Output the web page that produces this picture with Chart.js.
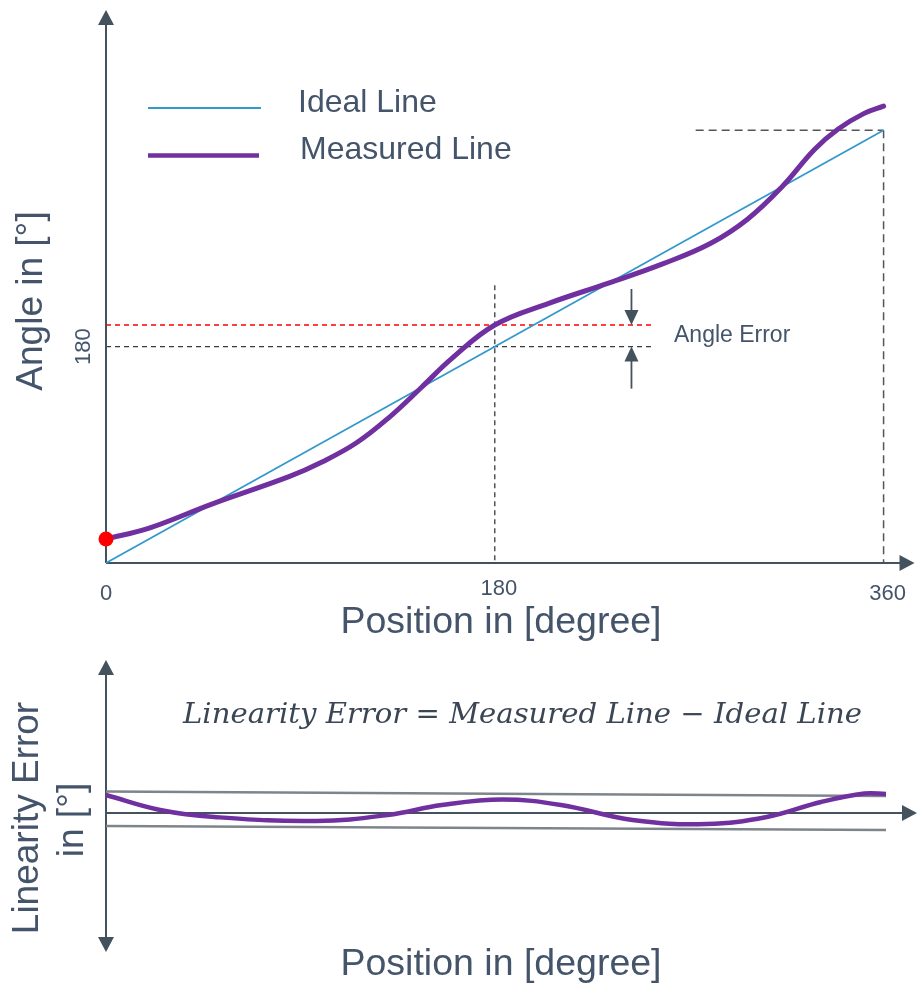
<!DOCTYPE html>
<html><head><meta charset="utf-8">
<script src="https://cdn.jsdelivr.net/npm/chart.js@4.4.1/dist/chart.umd.min.js"></script>
<style>
html,body{margin:0;padding:0;background:#fff;overflow:hidden;}
#wrap{position:relative;width:917px;height:987px;}
.box{position:absolute;left:0;width:917px;}
</style></head><body>
<div id="wrap">
<div class="box" style="top:0;height:645px"><canvas id="c1" width="917" height="645"></canvas></div>
<div class="box" style="top:645px;height:342px"><canvas id="c2" width="917" height="342"></canvas></div>
</div>
<script>
// ---------------- DATA ----------------
const measuredPos   = [0, 20, 49, 85, 100, 116, 131, 146, 160, 180, 205, 233, 258, 280, 297, 313, 328, 339, 351, 360];
const measuredAngle = [20, 29, 49, 72, 84, 100, 121, 146, 170, 198, 216, 233, 249, 266, 286, 313, 344, 361, 374, 380];
const idealPos   = [0, 360];
const idealAngle = [0, 360];
const errorPos = [0, 25, 50, 97, 130, 155, 183, 210, 243, 277, 305, 330, 350, 360];
const errorVal = [18, 3, -4, -8, -2, 8, 13.5, 8, -7, -11, -4, 11, 19.5, 19];
const bandPos   = [0, 360];
const upperBand = [21.5, 17];
const lowerBand = [-13, -17];
const xTickValues = [0, 180, 360];
const yTickValues = [180];
const markPos = 180;
const legendLabels = ['Ideal Line', 'Measured Line'];
const xTitle = 'Position in [degree]';
const yTitleTop = 'Angle in [°]';
const yTitleBottom = ['Linearity Error', 'in [°]'];
const formulaText = 'Linearity Error = Measured Line \u2212 Ideal Line';
const annotationText = 'Angle Error';

// ---------------- STYLE ----------------
const AXIS = '#44525e', TEXT = '#44546a';
const SANS = '"Liberation Sans", Arial, sans-serif';
const IDEAL_C = '#3399cc', MEAS_C = '#7030a0';

function pts(xs, ys){ return xs.map((v,i)=>({x:v, y:ys[i]})); }
function interp(xs, ys, v){
  for (let i=0;i<xs.length-1;i++){
    if (v>=xs[i] && v<=xs[i+1]) return ys[i] + (ys[i+1]-ys[i])*(v-xs[i])/(xs[i+1]-xs[i]);
  }
  return ys[ys.length-1];
}
function seg(ctx,x1,y1,x2,y2){ ctx.beginPath(); ctx.moveTo(x1,y1); ctx.lineTo(x2,y2); ctx.stroke(); }
function head(ctx,tx,ty,dir,len,half){
  ctx.beginPath();
  if(dir==='up'){ctx.moveTo(tx,ty);ctx.lineTo(tx-half,ty+len);ctx.lineTo(tx+half,ty+len);}
  else if(dir==='down'){ctx.moveTo(tx,ty);ctx.lineTo(tx-half,ty-len);ctx.lineTo(tx+half,ty-len);}
  else {ctx.moveTo(tx,ty);ctx.lineTo(tx-len,ty-half);ctx.lineTo(tx-len,ty+half);}
  ctx.closePath(); ctx.fill();
}
function text(ctx,s,x,y,font,color,align,baseline,rot){
  ctx.save(); ctx.translate(x,y); if(rot) ctx.rotate(rot);
  ctx.font=font; ctx.fillStyle=color; ctx.textAlign=align||'left'; ctx.textBaseline=baseline||'alphabetic';
  ctx.fillText(s,0,0); ctx.restore();
}

const X_MAX = 372;

// ---------------- TOP CHART ----------------
const topDecor = {
  id:'topDecor',
  beforeDatasetsDraw(chart){
    const {ctx, scales:{x,y}, chartArea:a} = chart;
    const ox = x.getPixelForValue(0), oy = y.getPixelForValue(0);
    const pM = x.getPixelForValue(markPos);
    const measAt = interp(measuredPos, measuredAngle, markPos);
    const idealAt = interp(idealPos, idealAngle, markPos);
    const refEnd = x.getPixelForValue(253);
    ctx.save();
    ctx.lineWidth = 1.3;
    ctx.setLineDash([5,4]);
    ctx.strokeStyle = '#3a3a3a';
    seg(ctx, pM, y.getPixelForValue(231), pM, oy);
    seg(ctx, ox, y.getPixelForValue(idealAt), refEnd, y.getPixelForValue(idealAt));
    ctx.strokeStyle = '#ff0000'; ctx.lineWidth = 1.5;
    seg(ctx, ox, y.getPixelForValue(measAt), refEnd, y.getPixelForValue(measAt));
    const xEnd = idealPos[idealPos.length-1], yEnd = idealAngle[idealAngle.length-1];
    ctx.strokeStyle = '#555'; ctx.lineWidth = 1.5; ctx.setLineDash([8,5]);
    seg(ctx, x.getPixelForValue(273), y.getPixelForValue(yEnd), x.getPixelForValue(xEnd), y.getPixelForValue(yEnd));
    seg(ctx, x.getPixelForValue(xEnd), y.getPixelForValue(yEnd), x.getPixelForValue(xEnd), oy);
    ctx.setLineDash([]);
    ctx.strokeStyle = AXIS; ctx.fillStyle = AXIS; ctx.lineWidth = 2;
    seg(ctx, ox, oy, ox, a.top+12); head(ctx, ox, a.top, 'up', 15, 8);
    seg(ctx, ox, oy, a.right-6, oy); head(ctx, a.right+5, oy, 'right', 15, 8);
    ctx.restore();
  },
  afterDatasetsDraw(chart){
    const {ctx, scales:{x,y}} = chart;
    ctx.save();
    xTickValues.forEach(v=> text(ctx, String(v), x.getPixelForValue(v) + (v===180?4:0) + (v===360?4:0), v===180?595:600, '22px '+SANS, TEXT, 'center'));
    yTickValues.forEach(v=> text(ctx, String(v), 90, y.getPixelForValue(v), '22px '+SANS, TEXT, 'center', 'alphabetic', -Math.PI/2));
    text(ctx, xTitle, 501, 633, '37.5px '+SANS, TEXT, 'center');
    text(ctx, yTitleTop, 42, 301, '37px '+SANS, TEXT, 'center', 'alphabetic', -Math.PI/2);
    ctx.lineCap = 'butt';
    ctx.strokeStyle = IDEAL_C; ctx.lineWidth = 2; seg(ctx, 148, 108, 261, 108);
    ctx.strokeStyle = MEAS_C; ctx.lineWidth = 4.5; seg(ctx, 148, 155.5, 259, 155.5);
    text(ctx, legendLabels[0], 298, 112, '32px '+SANS, TEXT);
    text(ctx, legendLabels[1], 300, 159, '32px '+SANS, TEXT);
    const measAt = y.getPixelForValue(interp(measuredPos, measuredAngle, markPos));
    const idealAt = y.getPixelForValue(interp(idealPos, idealAngle, markPos));
    const ax = x.getPixelForValue(253) - 21;
    ctx.strokeStyle = AXIS; ctx.fillStyle = AXIS; ctx.lineWidth = 1.8;
    seg(ctx, ax, measAt-36, ax, measAt-14); head(ctx, ax, measAt, 'down', 15, 7);
    seg(ctx, ax, idealAt+14, ax, idealAt+42); head(ctx, ax, idealAt, 'up', 15, 7);
    text(ctx, annotationText, 674, 342, '23px '+SANS, TEXT);
    ctx.restore();
  }
};

new Chart(document.getElementById('c1'), {
  type: 'scatter',
  data: { datasets: [
    { label:'start', data: [{x:measuredPos[0], y:measuredAngle[0]}], pointRadius:7.5, backgroundColor:'#ff0000', borderWidth:0, showLine:false, clip:false },
    { label:legendLabels[1], data: pts(measuredPos, measuredAngle), showLine:true, borderColor:MEAS_C, borderWidth:5, pointRadius:0, tension:0.4, clip:false, borderCapStyle:'round' },
    { label:legendLabels[0], data: pts(idealPos, idealAngle), showLine:true, borderColor:IDEAL_C, borderWidth:1.8, pointRadius:0, clip:false }
  ]},
  options: {
    responsive:false, animation:false, events:[],
    layout:{ padding:{ left:106, right:5, top:10, bottom:82 } },
    scales:{
      x:{ type:'linear', display:false, min:0, max:X_MAX },
      y:{ type:'linear', display:false, min:0, max:460 }
    },
    plugins:{ legend:{display:false}, tooltip:{enabled:false} }
  },
  plugins:[topDecor]
});

// ---------------- BOTTOM CHART ----------------
const botDecor = {
  id:'botDecor',
  beforeDatasetsDraw(chart){
    const {ctx, scales:{x,y}, chartArea:a} = chart;
    const ox = x.getPixelForValue(0), oy = y.getPixelForValue(0);
    ctx.save();
    ctx.strokeStyle = AXIS; ctx.fillStyle = AXIS; ctx.lineWidth = 2;
    seg(ctx, ox, a.top+12, ox, a.bottom-12);
    head(ctx, ox, a.top, 'up', 15, 8); head(ctx, ox, a.bottom, 'down', 15, 8);
    seg(ctx, ox, oy, a.right-6, oy); head(ctx, a.right+5, oy, 'right', 15, 8);
    ctx.restore();
  },
  afterDatasetsDraw(chart){
    const {ctx} = chart;
    ctx.save();
    ctx.font = 'italic 28px "DejaVu Serif", serif';
    const w = ctx.measureText(formulaText).width;
    ctx.translate(183, 78); ctx.scale(679/w, 1);
    ctx.fillStyle = '#3b4654'; ctx.textBaseline='alphabetic'; ctx.textAlign='left';
    ctx.fillText(formulaText, 0, 0);
    ctx.restore();
    ctx.save();
    text(ctx, yTitleBottom[0], 38, 173, '37px '+SANS, TEXT, 'center', 'alphabetic', -Math.PI/2);
    text(ctx, yTitleBottom[1], 83, 175, '37px '+SANS, TEXT, 'center', 'alphabetic', -Math.PI/2);
    text(ctx, xTitle, 501, 330, '37.5px '+SANS, TEXT, 'center');
    ctx.restore();
  }
};

new Chart(document.getElementById('c2'), {
  type: 'scatter',
  data: { datasets: [
    { label:'Linearity Error', data: pts(errorPos, errorVal), showLine:true, borderColor:MEAS_C, borderWidth:4.5, pointRadius:0, tension:0.4, clip:false },
    { label:'upper', data: pts(bandPos, upperBand), showLine:true, borderColor:'#7d858b', borderWidth:2.5, pointRadius:0 },
    { label:'lower', data: pts(bandPos, lowerBand), showLine:true, borderColor:'#7d858b', borderWidth:2.5, pointRadius:0 }
  ]},
  options: {
    responsive:false, animation:false, events:[],
    layout:{ padding:{ left:106, right:5, top:15, bottom:35 } },
    scales:{
      x:{ type:'linear', display:false, min:0, max:X_MAX },
      y:{ type:'linear', display:false, min:-139, max:153 }
    },
    plugins:{ legend:{display:false}, tooltip:{enabled:false} }
  },
  plugins:[botDecor]
});
</script>
</body></html>
